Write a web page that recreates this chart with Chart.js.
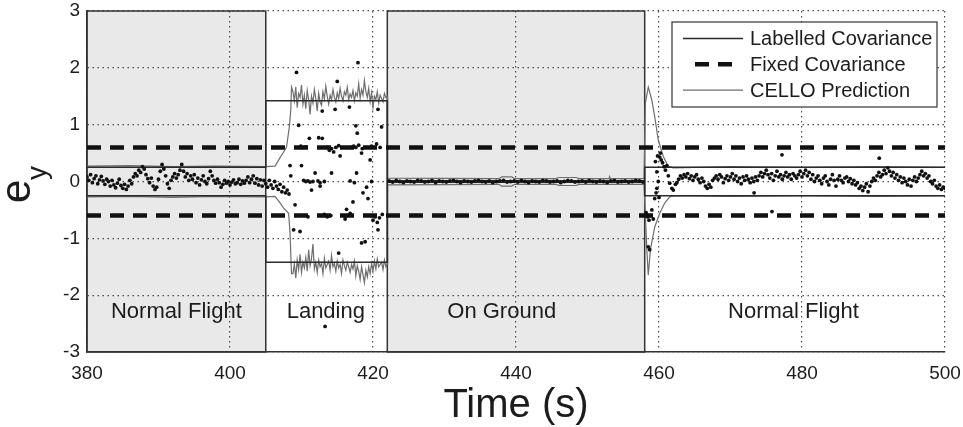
<!DOCTYPE html>
<html>
<head>
<meta charset="utf-8">
<script src="https://cdn.jsdelivr.net/npm/chart.js@4.4.1/dist/chart.umd.min.js"></script>
<style>
  html, body { margin: 0; padding: 0; background: #fff; }
  #wrap { width: 963px; height: 427px; }
</style>
</head>
<body>
<div id="wrap"><canvas id="eyChart" width="963" height="427"></canvas></div>
<script>
// flight phases (s)
const phaseStart  = [380, 405, 422, 458];
const phaseEnd    = [405, 422, 458, 500];
const phaseShaded = [true, false, true, false];
const phaseNames  = ['Normal Flight', 'Landing', 'On Ground', 'Normal Flight'];
const phaseLabelX = [392.5, 413.4, 438, 478.8];
const phaseLabelY = -2.3;

const xTicks = [380, 400, 420, 440, 460, 480, 500];
const yTicks = [-3, -2, -1, 0, 1, 2, 3];

// fixed covariance bound (+/-)
const fixedCov = 0.6;

// labelled covariance bound for each phase (+/-)
const labelledCov = [0.25, 1.42, 0.015, 0.25];

// CELLO predicted bound: smooth parts before / after the landing noise
const celloUpPreT  = [380, 386, 392, 398, 405, 406.3, 407.0, 407.5, 407.9, 408.3, 408.5, 408.6];
const celloUpPreV  = [0.27, 0.28, 0.26, 0.27, 0.26, 0.27, 0.42, 0.52, 0.60, 0.96, 1.26, 1.66];
const celloLoPreT  = [380, 386, 392, 398, 405, 406.3, 406.9, 407.5, 408.2, 408.4, 408.6];
const celloLoPreV  = [-0.27, -0.26, -0.28, -0.26, -0.27, -0.26, -0.36, -0.47, -0.56, -0.92, -1.62];

// landing part, sampled every 0.2 s from 408.8 s
const celloLandT0 = 408.8, celloLandDt = 0.2;
const celloLandUp = [
  1.58, 1.42, 1.66, 1.30, 1.55, 1.48, 1.70, 1.36, 1.52, 1.28,
  1.60, 1.44, 1.18, 1.50, 1.38, 1.62, 1.46, 1.24, 1.55, 1.40,
  1.34, 1.58, 1.45, 1.68, 1.50, 1.36, 1.52, 1.44, 1.62, 1.48,
  1.40, 1.56, 1.46, 1.64, 1.50, 1.42, 1.58, 1.52, 1.66, 1.44,
  1.54, 1.48, 1.60, 1.42, 1.56, 1.50, 1.72, 1.46, 1.62, 1.52,
  1.78, 1.58, 1.48, 1.64, 1.40, 1.56, 1.30, 1.50, 1.44, 1.58,
  1.38, 1.52, 1.46, 1.40, 1.55, 1.48, 1.50
];
const celloLandLo = [
  -1.62, -1.45, -1.70, -1.38, -1.55, -1.28, -1.60, -1.42, -1.52, -1.34,
  -1.58, -1.20, -1.48, -1.36, -1.10, -1.54, -1.42, -1.60, -1.38, -1.50,
  -1.44, -1.62, -1.35, -1.52, -1.46, -1.40, -1.56, -1.30, -1.50, -1.44,
  -1.58, -1.40, -1.52, -1.46, -1.62, -1.38, -1.48, -1.56, -1.42, -1.50,
  -1.60, -1.46, -1.54, -1.40, -1.66, -1.48, -1.58, -1.72, -1.50, -1.64,
  -1.78, -1.56, -1.68, -1.50, -1.62, -1.44, -1.58, -1.40, -1.54, -1.36,
  -1.50, -1.46, -1.42, -1.55, -1.38, -1.50, -1.45
];

const celloUpPostT = [422.05, 437.6, 438.0, 439.4, 439.8, 445.6, 446.0, 448.4, 448.8, 453.0, 453.1, 453.2, 457.9,
                      458.1, 458.5, 459.0, 459.4, 459.9, 460.6, 461.3, 462.0, 470, 480, 490, 500];
const celloUpPostV = [0.06, 0.05, 0.08, 0.08, 0.05, 0.05, 0.07, 0.07, 0.05, 0.05, 0.09, 0.05, 0.05,
                      1.38, 1.66, 1.43, 1.14, 0.73, 0.44, 0.27, 0.24, 0.26, 0.25, 0.26, 0.25];
const celloLoPostT = [422.05, 437.6, 438.0, 439.4, 439.8, 445.6, 446.0, 448.4, 448.8, 457.9,
                      458.1, 458.3, 458.5, 458.8, 459.4, 460.1, 460.8, 461.5, 462.2, 470, 480, 490, 500];
const celloLoPostV = [-0.06, -0.05, -0.08, -0.08, -0.05, -0.05, -0.07, -0.07, -0.05, -0.05,
                      -0.60, -1.20, -1.65, -1.20, -0.80, -0.56, -0.38, -0.27, -0.25, -0.26, -0.25, -0.26, -0.25];

// e_y samples, first flight phase, every 0.25 s from 380 s
const errFlight1T0 = 380, errDt = 0.25;
const errFlight1 = [
  0.08, 0.02, 0.12, -0.02, 0.05, 0.10, -0.04, 0.03, 0.09, 0.01,
  -0.05, 0.04, 0.00, -0.08, 0.02, -0.06, -0.11, -0.03, 0.04, -0.07,
  -0.12, -0.05, -0.14, -0.08, 0.02, -0.04, 0.08, 0.14, 0.10, 0.20,
  0.16, 0.26, 0.22, 0.12, 0.05, -0.02, 0.06, -0.08, -0.14, -0.10,
  0.04, 0.18, 0.30, 0.22, 0.10, -0.04, -0.12, 0.02, 0.08, 0.14,
  0.06, 0.12, 0.20, 0.30, 0.18, 0.08, 0.14, 0.02, 0.10, 0.04,
  0.12, -0.02, 0.06, -0.06, 0.03, 0.10, 0.00, -0.04, 0.05, 0.18,
  0.10, 0.02, -0.03, 0.04, -0.02, -0.10, -0.05, 0.02, -0.03, 0.00,
  -0.06, -0.01, 0.03, -0.04, -0.02, 0.04, -0.05, 0.01, -0.03, 0.02,
  0.08, -0.02, 0.04, 0.10, -0.03, 0.05, -0.06, 0.03, -0.08, 0.02,
  -0.04,
  // touchdown approach, 405.25 - 408.25 s
  -0.10, 0.02, -0.06, -0.12, 0.00, -0.08, -0.14, -0.05, -0.18, -0.10, -0.20, -0.15, -0.22
];

// scattered e_y during landing
const landT = [409.3, 415.0, 417.9, 416.7, 414.7, 420.7, 412.9, 409.6, 417.6, 421.2, 417.8, 411.1, 412.4, 412.9,
               409.9, 410.1, 410.6, 413.6, 413.9, 414.2, 414.5, 414.8, 415.2, 417.0, 417.3, 417.6, 418.0, 418.5,
               419.8, 420.5, 421.0, 415.4, 418.4, 419.6, 410.0, 408.4, 411.9, 414.2, 417.7, 408.5,
               410.3, 410.6, 410.9, 411.2, 411.6, 412.3, 412.6, 413.2, 416.8, 417.4, 419.8,
               411.4, 412.6, 419.1, 418.6, 417.2, 419.3, 409.1, 416.3,
               410.9, 412.8, 413.2, 413.6, 414.1, 416.1, 416.4, 416.8, 419.7, 420.0, 420.3, 420.6, 420.9, 421.3,
               420.7, 408.9, 409.8, 418.9, 418.4, 415.2, 413.3];
const landV = [1.92, 1.76, 2.09, 1.31, 1.27, 1.27, 1.24, 0.99, 0.98, 0.96, 0.85, 0.76, 0.77, 0.76,
               0.62, 0.60, 0.61, 0.60, 0.55, 0.58, 0.52, 0.60, 0.63, 0.60, 0.62, 0.60, 0.64, 0.58,
               0.62, 0.66, 0.60, 0.45, 0.50, 0.38, 0.28, 0.28, 0.15, 0.15, 0.15, 0.10,
               0.02, 0.00, 0.01, -0.01, 0.00, 0.01, -0.02, 0.00, 0.01, -0.02, 0.00,
               -0.15, -0.08, -0.10, -0.20, -0.36, -0.30, -0.41, -0.49,
               -0.62, -0.60, -0.58, -0.62, -0.60, -0.66, -0.60, -0.56, -0.60, -0.68, -0.62, -0.72, -0.64, -0.58,
               -0.85, -0.85, -0.88, -1.06, -1.08, -1.26, -2.55];

// e_y on the ground, every 0.5 s from 422.25 s
const errGroundT0 = 422.25, errGroundDt = 0.5;
const errGround = [
  0.01, -0.01, 0.02, 0.00, -0.02, 0.01, 0.00, -0.01, 0.02, 0.01,
  -0.01, 0.00, 0.02, -0.02, 0.01, 0.00, -0.01, 0.01, 0.02, 0.00,
  -0.02, 0.01, 0.00, -0.01, 0.01, 0.02, 0.00, -0.01, 0.01, -0.02,
  0.00, 0.01, 0.02, -0.01, 0.00, 0.01, -0.01, 0.02, 0.00, -0.02,
  0.01, 0.00, -0.01, 0.02, 0.01, -0.01, 0.00, 0.01, -0.02, 0.00,
  0.02, 0.01, -0.01, 0.00, 0.01, -0.01, 0.02, 0.00, -0.01, 0.01,
  0.00, -0.02, 0.01, 0.02, -0.01, 0.00, 0.01, -0.01, 0.00, 0.02,
  0.01, -0.01
];

// take-off transient
const exitT = [458.2, 458.4, 458.5, 458.6, 458.7, 458.8, 459.0, 459.2, 459.4, 459.5, 459.6, 459.7, 459.7, 459.8,
               459.9, 460.0, 460.1, 460.2, 460.3, 460.5, 460.7, 460.9, 461.1, 461.3, 461.5, 461.8, 462.0, 462.3];
const exitV = [-0.55, -0.62, -1.15, -0.68, -1.20, -0.60, -0.50, -0.66, -0.30, 0.35, -0.20, -0.12, 0.17, 0.45,
               0.00, -0.28, 0.43, 0.50, 0.38, 0.33, 0.26, 0.20, 0.28, 0.10, -0.03, -0.12, -0.15, -0.05];

// e_y samples, second flight phase, every 0.25 s from 462.5 s
const errFlight2T0 = 462.5;
const errFlight2 = [
  -0.02, 0.04, 0.10, 0.06, 0.12, 0.08, 0.14, 0.05, 0.10, 0.02,
  0.08, 0.12, 0.04, -0.02, 0.06, 0.00, -0.08, -0.12, -0.05, -0.10,
  0.02, 0.06, 0.10, 0.04, 0.12, 0.08, -0.02, 0.05, 0.10, 0.02,
  0.08, 0.14, 0.04, 0.10, 0.00, 0.06, -0.04, 0.08, 0.02, 0.10,
  0.04, -0.02, 0.06, 0.00, 0.08, 0.02, 0.10, 0.16, 0.08, 0.14,
  0.20, 0.12, 0.06, 0.14, 0.02, 0.10, 0.18, 0.08, 0.12, 0.04,
  0.10, 0.16, 0.08, 0.12, 0.04, 0.14, 0.10, 0.06, 0.12, 0.18,
  0.08, 0.14, 0.20, 0.10, 0.16, 0.04, 0.12, 0.00, 0.06, 0.10,
  0.02, -0.04, 0.06, 0.10, 0.00, -0.06, 0.04, 0.12, 0.02, -0.08,
  0.04, 0.10, 0.02, -0.02, 0.06, 0.08, 0.00, 0.05, -0.04, 0.02,
  -0.06, -0.02, -0.12, -0.08, -0.16, -0.10, -0.04, -0.18, -0.08, 0.00,
  0.06, 0.02, 0.10, 0.16, 0.08, 0.12, 0.20, 0.14, 0.24, 0.18,
  0.10, 0.16, 0.06, 0.12, 0.02, 0.08, -0.02, 0.06, 0.00, -0.06,
  0.04, -0.08, 0.02, 0.08, 0.00, 0.06, 0.12, 0.18, 0.10, 0.14,
  0.06, 0.10, 0.00, -0.04, 0.02, -0.08, -0.12, -0.06, -0.14, -0.10,
  -0.12
];
const strayT = [473.3, 475.8, 477.2, 490.8];
const strayV = [-0.20, -0.53, 0.47, 0.41];

const FONT = '"Liberation Sans", Arial, Helvetica, sans-serif';
const INK = '#1c1c1c';

const pairs = (xs, ys) => xs.map((x, i) => ({ x, y: ys[i] }));
const sampled = (t0, dt, ys) => ys.map((y, i) => ({ x: t0 + i * dt, y }));

const errPoints = [].concat(
  sampled(errFlight1T0, errDt, errFlight1),
  pairs(landT, landV),
  sampled(errGroundT0, errGroundDt, errGround),
  pairs(exitT, exitV),
  sampled(errFlight2T0, errDt, errFlight2),
  pairs(strayT, strayV)
);

const stepBound = sign => phaseStart.map((t, i) => ({ x: t, y: sign * labelledCov[i] }))
  .concat([{ x: 500, y: sign * labelledCov[labelledCov.length - 1] }]);

const celloUpper = [].concat(pairs(celloUpPreT, celloUpPreV), sampled(celloLandT0, celloLandDt, celloLandUp), pairs(celloUpPostT, celloUpPostV));
const celloLower = [].concat(pairs(celloLoPreT, celloLoPreV), sampled(celloLandT0, celloLandDt, celloLandLo), pairs(celloLoPostT, celloLoPostV));

const lineStyle = (color, width, extra) => Object.assign({
  showLine: true, pointRadius: 0, borderColor: color, borderWidth: width, fill: false
}, extra || {});

const datasets = [
  { label: 'e_y', data: errPoints, showLine: false, pointRadius: 1.9, pointBorderWidth: 0,
    pointBackgroundColor: '#111', backgroundColor: '#111' },
  lineStyle('#111', 4.5, { label: 'Fixed Covariance', legend: 1, borderDash: [14, 9],
    data: [{ x: 380, y: fixedCov }, { x: 500, y: fixedCov }] }),
  lineStyle('#111', 4.5, { borderDash: [14, 9], data: [{ x: 380, y: -fixedCov }, { x: 500, y: -fixedCov }] }),
  lineStyle('#2b2b2b', 1.5, { label: 'Labelled Covariance', legend: 0, stepped: 'before', data: stepBound(1) }),
  lineStyle('#2b2b2b', 1.5, { stepped: 'before', data: stepBound(-1) }),
  lineStyle('#6e6e6e', 1.2, { label: 'CELLO Prediction', legend: 2, data: celloUpper }),
  lineStyle('#6e6e6e', 1.2, { data: celloLower })
];

// grey phase boxes, their outlines and names
const phaseBoxes = {
  id: 'phaseBoxes',
  beforeDraw(chart) {
    const { ctx, chartArea: ca, scales: { x } } = chart;
    ctx.save();
    ctx.fillStyle = '#e9e9e9';
    phaseStart.forEach((t0, i) => {
      if (!phaseShaded[i]) return;
      const l = x.getPixelForValue(t0), r = x.getPixelForValue(phaseEnd[i]);
      ctx.fillRect(l, ca.top, r - l, ca.bottom - ca.top);
    });
    ctx.restore();
  },
  beforeDatasetsDraw(chart) {
    const { ctx, chartArea: ca, scales: { x, y } } = chart;
    ctx.save();
    ctx.strokeStyle = '#333';
    ctx.lineWidth = 1.5;
    phaseStart.forEach((t0, i) => {
      if (!phaseShaded[i]) return;
      const l = x.getPixelForValue(t0), r = x.getPixelForValue(phaseEnd[i]);
      ctx.strokeRect(l, ca.top, r - l, ca.bottom - ca.top);
    });
    ctx.fillStyle = INK;
    ctx.font = '22px ' + FONT;
    ctx.textAlign = 'center';
    ctx.textBaseline = 'middle';
    phaseNames.forEach((name, i) => {
      ctx.fillText(name, x.getPixelForValue(phaseLabelX[i]), y.getPixelForValue(phaseLabelY));
    });
    ctx.restore();
  }
};

// boxed legend in the upper right corner
const legendBox = {
  id: 'legendBox',
  afterDatasetsDraw(chart) {
    const { ctx, chartArea: ca } = chart;
    const items = chart.data.datasets.filter(d => d.legend !== undefined).sort((a, b) => a.legend - b.legend);
    const bx = ca.right - 273, by = ca.top + 11, bw = 265, bh = 85;
    ctx.save();
    ctx.fillStyle = '#fff';
    ctx.fillRect(bx, by, bw, bh);
    ctx.strokeStyle = '#333';
    ctx.lineWidth = 1.2;
    ctx.strokeRect(bx, by, bw, bh);
    ctx.font = '20px ' + FONT;
    ctx.textBaseline = 'middle';
    items.forEach((d, i) => {
      const ry = by + 16.5 + i * 25.8;
      ctx.beginPath();
      ctx.strokeStyle = d.borderColor;
      ctx.lineWidth = d.borderWidth;
      if (d.borderDash) {
        ctx.setLineDash(d.borderDash);
        ctx.moveTo(bx + 23, ry); ctx.lineTo(bx + 63, ry);
      } else {
        ctx.setLineDash([]);
        ctx.moveTo(bx + 11, ry); ctx.lineTo(bx + 71, ry);
      }
      ctx.stroke();
      ctx.fillStyle = INK;
      ctx.fillText(d.label, bx + 78, ry + 1);
    });
    ctx.restore();
  }
};

// rotated y title: e with subscript y
const eyTitle = {
  id: 'eyTitle',
  afterDraw(chart) {
    const { ctx } = chart;
    ctx.save();
    ctx.translate(30, 203);
    ctx.rotate(-Math.PI / 2);
    ctx.fillStyle = INK;
    ctx.textBaseline = 'alphabetic';
    ctx.textAlign = 'left';
    ctx.font = '42px ' + FONT;
    ctx.fillText('e', 0, 0);
    ctx.font = '28px ' + FONT;
    ctx.fillText('y', 23, 16);
    ctx.restore();
  }
};

const gridStyle = { color: '#4a4a4a', lineWidth: 1.2, drawTicks: false };
const borderStyle = { color: '#333', width: 1.5, dash: [1.5, 3.5] };

new Chart(document.getElementById('eyChart').getContext('2d'), {
  type: 'scatter',
  data: { datasets },
  options: {
    responsive: false,
    animation: false,
    events: [],
    layout: { padding: { top: 11, right: 18, left: 0, bottom: 0 } },
    plugins: { legend: { display: false }, tooltip: { enabled: false } },
    scales: {
      x: {
        type: 'linear', min: 380, max: 500,
        afterBuildTicks: s => { s.ticks = xTicks.map(v => ({ value: v })); },
        afterFit: s => { s.height = 75; s.paddingLeft = 0; s.paddingRight = 0; },
        grid: gridStyle, border: borderStyle,
        ticks: { color: INK, font: { family: FONT, size: 19 }, padding: 10 },
        title: { display: true, text: 'Time (s)', color: INK,
                 font: { family: FONT, size: 40, lineHeight: 1.05 }, padding: { top: 0, bottom: 0 } }
      },
      y: {
        min: -3, max: 3,
        afterBuildTicks: s => { s.ticks = yTicks.map(v => ({ value: v })); },
        afterFit: s => { s.width = 87; s.paddingTop = 0; s.paddingBottom = 0; },
        grid: gridStyle, border: borderStyle,
        ticks: { color: INK, font: { family: FONT, size: 19 }, padding: 7 }
      }
    }
  },
  plugins: [phaseBoxes, legendBox, eyTitle]
});
</script>
</body>
</html>
